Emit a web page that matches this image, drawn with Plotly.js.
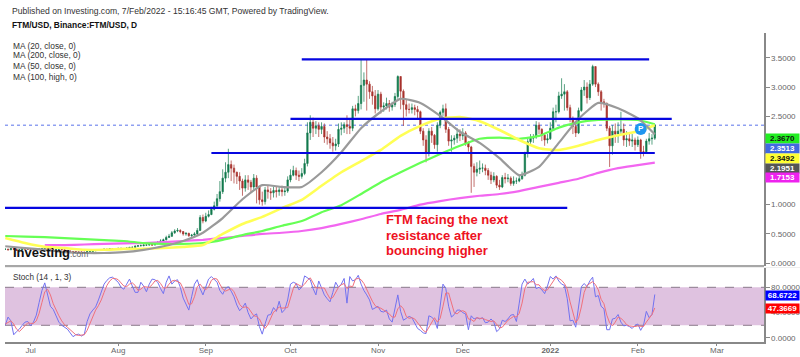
<!DOCTYPE html>
<html><head><meta charset="utf-8">
<script src="https://cdn.plot.ly/plotly-3.0.1.min.js"></script>
<style>html,body{margin:0;padding:0;background:#fff}#c{width:800px;height:357px}</style>
</head><body><div id="c"></div>
<script>
const closes=[.24,.23,.25,.24,.22,.23,.25,.24,.24,
.24,.23,.24,.24,.25,.26,.25,.24,.23,.24,.24,.23,.22,.21,.20,.20,.19,.19,.19,.18,.20,.20,.21,.22,.22,.23,.24,.23,.25,.24,.25,
.25,.25,.24,.26,.27,.27,.29,.30,.30,.31,.31,.32,.31,.33,.36,.38,.40,.44,.46,.52,.55,.56,.54,.50,.51,.47,.48,.50,.56,.78,.72,
.80,.83,.92,.98,1.10,1.22,1.45,1.55,1.68,1.62,1.55,1.48,1.40,1.28,1.42,1.38,1.30,1.45,1.30,1.08,1.05,1.25,1.22,1.20,1.24,1.22,1.25,1.22,1.23,1.42,
1.50,1.58,1.50,1.48,1.53,1.70,2.22,2.40,2.30,2.34,2.28,2.33,2.15,2.12,2.05,2.00,2.03,2.28,2.30,2.36,2.33,2.30,2.63,2.60,2.72,3.03,3.12,3.05,2.92,2.85,2.63,
2.88,2.66,2.68,2.72,2.66,2.70,2.84,3.18,2.93,2.70,2.62,2.62,2.65,2.62,2.58,2.25,2.10,1.88,2.25,2.18,2.02,2.35,2.57,2.63,2.28,2.08,2.10,2.13,2.20,2.17,
2.22,2.05,1.98,1.65,1.55,1.60,1.62,1.62,1.58,1.50,1.42,1.48,1.33,1.30,1.46,1.44,1.45,1.36,1.40,1.40,1.44,1.50,1.87,2.07,2.13,2.15,2.35,2.28,2.18,2.10,2.12,
2.30,2.58,2.58,2.85,2.88,2.92,2.65,2.45,2.33,2.22,2.60,2.95,3.00,2.82,3.05,3.35,3.05,2.92,2.75,2.72,2.30,2.00,2.25,2.20,2.25,2.28,2.10,2.12,2.08,2.10,2.02,
2.10,1.90,1.90,2.08,2.12,2.13,2.35];
const opens=[.24,.24,.23,.25,.24,.22,.23,.25,.24,
.24,.24,.23,.24,.24,.25,.26,.25,.24,.23,.24,.24,.23,.22,.21,.20,.20,.19,.19,.19,.18,.20,.20,.21,.22,.22,.23,.24,.23,.25,.24,
.25,.25,.25,.24,.26,.27,.27,.29,.30,.30,.31,.31,.32,.31,.33,.36,.38,.40,.44,.46,.52,.55,.56,.54,.50,.51,.47,.48,.50,.56,.78,
.72,.80,.83,.92,.98,1.10,1.22,1.45,1.55,1.68,1.62,1.55,1.48,1.40,1.28,1.42,1.38,1.30,1.45,1.30,1.08,1.05,1.25,1.22,1.20,1.24,1.22,1.25,1.22,1.23,
1.42,1.50,1.58,1.50,1.48,1.53,1.70,2.22,2.40,2.30,2.34,2.28,2.33,2.15,2.12,2.05,2.00,2.03,2.28,2.30,2.36,2.33,2.30,2.63,2.60,2.72,3.03,3.12,3.05,2.92,2.85,
2.63,2.88,2.66,2.68,2.72,2.66,2.70,2.84,3.18,2.93,2.70,2.62,2.62,2.65,2.62,2.58,2.25,2.10,1.88,2.25,2.18,2.02,2.35,2.57,2.63,2.28,2.08,2.10,2.13,2.20,
2.17,2.22,2.05,1.98,1.65,1.55,1.60,1.62,1.62,1.58,1.50,1.42,1.48,1.33,1.30,1.46,1.44,1.45,1.36,1.40,1.40,1.44,1.50,1.87,2.07,2.13,2.15,2.35,2.28,2.18,2.10,
2.12,2.30,2.58,2.58,2.85,2.88,2.92,2.65,2.45,2.33,2.22,2.60,2.95,3.00,2.82,3.05,3.35,3.05,2.92,2.75,2.72,2.30,2.00,2.25,2.20,2.25,2.28,2.10,2.12,2.08,2.10,
2.02,2.10,1.90,1.90,2.08,2.12,2.13];
const highs=[.25,.25,.26,.26,.25,.24,.26,.26,.25,
.25,.25,.25,.25,.26,.27,.27,.25,.25,.25,.25,.25,.23,.22,.22,.21,.21,.20,.20,.20,.21,.21,.22,.23,.23,.24,.25,.25,.26,.26,.26,
.27,.27,.26,.27,.28,.29,.31,.31,.32,.33,.33,.34,.33,.35,.38,.41,.42,.47,.50,.55,.58,.60,.58,.55,.53,.52,.50,.53,.60,.82,.83,
.86,.90,.96,1.05,1.18,1.40,1.60,1.72,1.95,1.75,1.68,1.56,1.55,1.44,1.50,1.50,1.42,1.52,1.50,1.30,1.22,1.30,1.32,1.28,1.30,1.30,1.30,1.32,1.30,1.48,
1.60,1.66,1.63,1.58,1.62,1.78,2.40,2.52,2.48,2.42,2.40,2.40,2.38,2.25,2.20,2.15,2.12,2.38,2.40,2.40,2.52,2.44,2.68,2.70,2.85,3.47,3.25,3.47,3.10,3.02,2.95,
2.95,2.92,2.74,2.82,2.78,2.75,2.90,3.20,3.18,2.96,2.78,2.72,2.72,2.70,2.68,2.60,2.30,2.18,2.30,2.32,2.20,2.40,2.60,2.70,2.72,2.32,2.18,2.18,2.30,2.28,
2.30,2.25,2.08,2.00,1.70,1.72,1.75,1.70,1.68,1.62,1.56,1.55,1.50,1.42,1.50,1.54,1.52,1.48,1.48,1.46,1.50,1.56,1.90,2.12,2.20,2.20,2.42,2.40,2.30,2.22,2.20,
2.40,2.65,2.70,2.92,3.15,3.05,2.95,2.70,2.50,2.40,2.65,3.00,3.12,3.08,3.12,3.38,3.35,3.08,2.95,2.80,2.74,2.34,2.35,2.38,2.40,2.58,2.38,2.25,2.22,2.20,2.14,
2.16,2.12,2.00,2.12,2.22,2.20,2.37];
const lows=[.23,.22,.23,.23,.21,.22,.23,.23,.23,
.22,.22,.23,.23,.24,.24,.24,.23,.22,.22,.23,.22,.21,.20,.19,.19,.18,.18,.18,.17,.18,.19,.20,.21,.21,.22,.22,.22,.23,.23,.23,
.24,.24,.23,.24,.25,.26,.27,.28,.29,.29,.30,.30,.30,.31,.33,.35,.38,.39,.43,.45,.50,.53,.51,.47,.47,.45,.45,.47,.48,.55,.68,
.70,.78,.82,.90,.95,1.05,1.18,1.38,1.45,1.40,1.36,1.35,1.25,1.15,1.22,1.25,1.20,1.25,1.02,1.00,.98,1.00,1.10,1.08,1.12,1.12,1.15,1.14,1.15,1.20,
1.38,1.48,1.42,1.40,1.44,1.50,1.65,2.10,2.15,2.20,2.15,2.20,2.05,2.02,1.95,1.90,1.92,1.98,2.18,2.22,2.20,2.20,2.25,2.50,2.55,2.62,2.75,2.60,2.80,2.70,2.55,
2.60,2.55,2.58,2.62,2.58,2.60,2.66,2.80,2.62,2.34,2.50,2.55,2.55,2.52,2.45,2.20,2.00,1.72,1.82,2.05,1.95,1.90,2.30,2.50,2.22,2.00,1.90,2.02,2.05,2.08,
2.10,2.00,1.90,1.20,1.30,1.48,1.52,1.55,1.50,1.42,1.35,1.38,1.28,1.25,1.28,1.36,1.38,1.32,1.32,1.35,1.38,1.42,1.48,1.80,2.02,2.05,2.12,2.20,2.08,2.00,2.04,
2.10,2.28,2.40,2.55,2.80,2.60,2.60,2.40,2.20,2.15,2.20,2.58,2.85,2.72,2.78,3.02,3.00,2.85,2.60,2.65,2.25,1.64,1.85,2.05,2.05,2.18,2.00,1.98,2.00,1.98,1.92,
1.98,1.78,1.82,1.88,2.02,2.02,2.10];
const ma20=[.29,.26,.23,.19,.175,.175,.19,.23,.29,.38,.52,.77,1.09,1.33,1.30,1.30,1.55,1.89,2.30,2.58,2.80,2.73,2.51,2.24,2.05,1.79,1.50,1.64,2.05,2.46,2.73,2.64,2.47,2.1951];
const ma50=[.43,.345,.28,.26,.23,.23,.245,.245,.26,.28,.31,.50,.67,.79,.94,1.08,1.32,1.55,1.74,1.93,2.17,2.34,2.46,2.49,2.42,2.27,2.10,1.96,1.93,2.00,2.10,2.18,2.25,2.3492];
const ma100=[.465,.455,.445,.43,.41,.395,.38,.345,.33,.33,.345,.40,.48,.55,.64,.72,.87,.99,1.18,1.38,1.55,1.71,1.86,2.00,2.12,2.14,2.12,2.17,2.31,2.40,2.44,2.45,2.44,2.367];
const ma200=[null,null,.31,.31,.32,.33,.34,.345,.36,.38,.40,.43,.465,.50,.52,.55,.60,.67,.75,.84,.91,1.00,1.06,1.11,1.15,1.18,1.23,1.30,1.37,1.44,1.54,1.62,1.67,1.7153];
const stochK=[20,33,27,5,10,14,20,25,26,19,25,36,56,75,87,68,50,45,35,25,20,17,14,8,2,5,6,3,6,26,38,44,49,60,72,85,91,95,96,92,88,80,77,85,93,82,72,72,88,82,73,85,93,92,88,78,70,88,98,85,90,92,80,63,52,44,65,85,92,78,68,82,93,97,92,88,75,69,78,81,74,65,52,43,48,55,40,30,35,38,18,6,22,36,
37,48,42,58,40,45,60,85,88,86,76,80,98,95,92,78,68,90,80,68,62,57,72,88,80,85,94,55,97,90,92,99,85,75,68,60,45,48,50,42,41,44,30,25,44,68,42,28,31,34,32,24,15,12,8,7,35,33,28,15,50,85,78,50,33,37,44,44,40,38,13,35,30,32,30,32,24,25,30,25,10,14,28,26,30,36,37,26,55,85,93,85,
89,94,78,80,76,70,82,97,93,98,90,85,83,62,27,28,17,48,81,86,81,90,96,65,67,50,46,13,13,30,31,37,25,19,20,18,15,20,22,12,20,42,32,37,68.6722];
const stochD=[22,24,27,22,14,10,15,20,24,23,23,27,39,56,73,77,68,54,43,35,27,21,17,13,8,5,4,5,5,12,23,36,44,51,60,72,83,90,94,94,92,87,82,81,85,87,83,75,77,81,81,80,84,90,91,86,79,79,85,90,91,89,87,78,65,53,54,65,81,85,79,76,81,91,94,93,85,77,74,76,78,73,64,53,48,49,48,42,35,34,30,21,15,21,
32,41,44,49,47,48,48,63,78,86,83,81,85,91,95,88,79,79,79,79,70,62,64,72,80,84,86,78,82,81,93,94,92,86,76,68,58,51,48,47,44,42,38,33,33,46,51,46,34,31,32,30,24,17,12,9,17,25,32,25,31,50,71,71,54,40,38,42,43,41,30,29,26,32,31,31,29,27,26,27,22,16,17,23,28,31,34,33,39,55,78,88,
89,89,84,84,78,75,76,83,91,96,94,91,86,77,57,39,24,31,49,72,83,86,89,84,76,61,54,36,24,19,25,33,31,27,21,19,18,18,19,18,18,25,31,37,47.3669];
const monthTicks=["2021-07-01","2021-08-01","2021-09-01","2021-10-01","2021-11-01","2021-12-01","2022-01-01","2022-02-01","2022-03-01"];
const monthLabels=["Jul","Aug","Sep","Oct","Nov","Dec","<b>2022</b>","Feb","Mar"];
const levels=[3.47,2.46,1.878,0.942];
const levelStart=["2021-10-05","2021-10-01","2021-09-03","2021-06-21T22:00"];
const levelEnd=["2022-02-05","2022-02-13","2022-02-07","2022-01-07"];
const legendLabels=["MA (20, close, 0)","MA (200, close, 0)","MA (50, close, 0)","MA (100, high, 0)"];
const noteLines=["FTM facing the next","resistance after","bouncing higher"];
const priceTags=[["2.3670","#22ee22","#111"],["2.3513","#4169e1","#fff"],["2.3492","#ffff33","#111"],["2.1951","#555555","#fff"],["1.7153","#ee22ee","#fff"]];
const stochTags=[["68.6722","#0000ff","#fff"],["47.3669","#ff0000","#fff"]];
const lastPrice=2.3513;

const dates=closes.map((_,i)=>new Date(Date.UTC(2021,5,22+i)).toISOString().slice(0,10));
const knotIdx=ma20.map((_,k)=>k<33?k*7:230);
const maDates=knotIdx.map(i=>dates[i]);

const PL=5,PR=764,PT=33,PB=342,PANE=266,STOP=268;
const px=x=>(x-PL)/(PR-PL), py=y=>(PB-y)/(PB-PT);
const FONT='"Liberation Sans",Arial,sans-serif';
const line=(y,c,w)=>({type:'scatter',mode:'lines',x:maDates,y,yaxis:'y',hoverinfo:'skip',connectgaps:false,line:{color:c,width:w,shape:'spline',smoothing:.5}});
const axisFont={family:FONT,size:8,color:'#666'};

const traces=[
 {type:'candlestick',x:dates,open:opens,high:highs,low:lows,close:closes,yaxis:'y',whiskerwidth:0,hoverinfo:'skip',
  increasing:{line:{color:'#127a4d',width:.7},fillcolor:'#127a4d'},decreasing:{line:{color:'#a8322d',width:.7},fillcolor:'#a8322d'}},
 line(ma200,'#f266f0',2.2),line(ma100,'#66ff55',2.2),line(ma50,'#ffff55',2.6),line(ma20,'#9a9a9a',2.2),
 ...levels.map((v,i)=>({type:'scatter',mode:'lines',x:[levelStart[i],levelEnd[i]],y:[v,v],yaxis:'y',hoverinfo:'skip',line:{color:'#0606e0',width:2.2}})),
 {type:'scatter',mode:'markers+text',x:["2022-02-02"],y:[2.287],yaxis:'y',text:['<b>P</b>'],textposition:'middle center',textfont:{color:'#fff',size:8,family:FONT},marker:{size:12,color:'#1e96f0'},hoverinfo:'skip'},
 {type:'scatter',mode:'lines',x:dates,y:stochK,yaxis:'y2',hoverinfo:'skip',line:{color:'#7272f0',width:1}},
 {type:'scatter',mode:'lines',x:dates,y:stochD,yaxis:'y2',hoverinfo:'skip',line:{color:'#f0707c',width:1}}
];

const shapes=[
 {type:'rect',xref:'paper',x0:0,x1:1,yref:'y2',y0:20,y1:80,fillcolor:'#dfc2e0',line:{width:0},layer:'below'},
 {type:'line',xref:'paper',x0:0,x1:1,yref:'y2',y0:80,y1:80,line:{color:'#8a7a8a',width:1,dash:'dash'},layer:'below'},
 {type:'line',xref:'paper',x0:0,x1:1,yref:'y2',y0:20,y1:20,line:{color:'#8a7a8a',width:1,dash:'dash'},layer:'below'},
 {type:'line',xref:'paper',x0:0,x1:1,yref:'y',y0:lastPrice,y1:lastPrice,line:{color:'#5a72ea',width:1,dash:'dot'},layer:'below'},
 {type:'line',xref:'paper',x0:0,x1:1,yref:'paper',y0:py(PANE),y1:py(PANE),line:{color:'#8a8a8a',width:1.6}},
 {type:'line',xref:'paper',x0:0,x1:1.05,yref:'paper',y0:py(PANE+1.5),y1:py(PANE+1.5),line:{color:'#eeeeee',width:1}}
];

const note=(t,x,y,size,color='#333',family=FONT)=>({xref:'paper',yref:'paper',x:px(x),y:py(y),xanchor:'left',yanchor:'middle',text:t,showarrow:false,align:'left',font:{family,size,color}});
const tag=(t,y)=>({xref:'paper',yref:'paper',x:px(765),y:py(y),xanchor:'left',yanchor:'middle',text:'<b>'+t[0]+'</b>',showarrow:false,width:33,height:9,bgcolor:t[1],borderpad:0,font:{family:FONT,size:8,color:t[2]}});

const annotations=[
 note('Published on Investing.com, 7/Feb/2022 - 15:16:45 GMT, Powered by TradingView.',10,11,8.6),
 note('<b>FTM/USD, Binance:FTM/USD, D</b>',10,25,8.4,'#111'),
 ...legendLabels.map((t,i)=>note(t,11,[46,55.5,66,76.5][i],8.4)),
 ...noteLines.map((t,i)=>note('<b>'+t+'</b>',384,[219,235,250][i],13,'#ee1122')),
 note('<b>Investing</b>',11,252,13,'#111'),
 note('.com',68,254,8.5,'#666'),
 note('Stoch (14 , 1, 3)',11,277,8.2),
 ...priceTags.map((t,i)=>tag(t,[138,148,158,168,177.5][i])),
 ...stochTags.map((t,i)=>tag(t,[295,308.5][i]))
];

const layout={
 width:800,height:357,paper_bgcolor:'#fff',plot_bgcolor:'rgba(0,0,0,0)',showlegend:false,dragmode:false,
 margin:{l:PL,r:800-PR,t:PT,b:357-PB,pad:0},
 xaxis:{type:'date',range:['2021-06-21 22:00','2022-03-17 16:00'],anchor:'y2',domain:[0,1],tickmode:'array',tickvals:monthTicks,ticktext:monthLabels,
  ticks:'outside',ticklen:2,tickcolor:'#888',ticklabelstandoff:-2,showgrid:false,zeroline:false,showline:true,linecolor:'#888',linewidth:1.5,tickfont:axisFont,rangeslider:{visible:false},fixedrange:true},
 yaxis:{domain:[py(PANE),1],range:[(263.3-PANE)/58.74,(263.3-PT)/58.74],side:'right',anchor:'x',tickmode:'array',tickvals:[0,.5,1,1.5,2,2.5,3,3.5],tickformat:'.4f',
  ticks:'outside',ticklen:4,tickcolor:'#888',showgrid:false,zeroline:false,showline:true,linecolor:'#888',linewidth:1.5,tickfont:axisFont,fixedrange:true},
 yaxis2:{domain:[0,py(STOP)],range:[-6.4,110.5],side:'right',anchor:'x',tickmode:'array',tickvals:[0,40,80],tickformat:'.4f',
  ticks:'outside',ticklen:4,tickcolor:'#888',showgrid:false,zeroline:false,showline:true,linecolor:'#888',linewidth:1.5,tickfont:axisFont,fixedrange:true},
 shapes,annotations
};
Plotly.newPlot('c',traces,layout,{staticPlot:true,displayModeBar:false});
</script></body></html>
